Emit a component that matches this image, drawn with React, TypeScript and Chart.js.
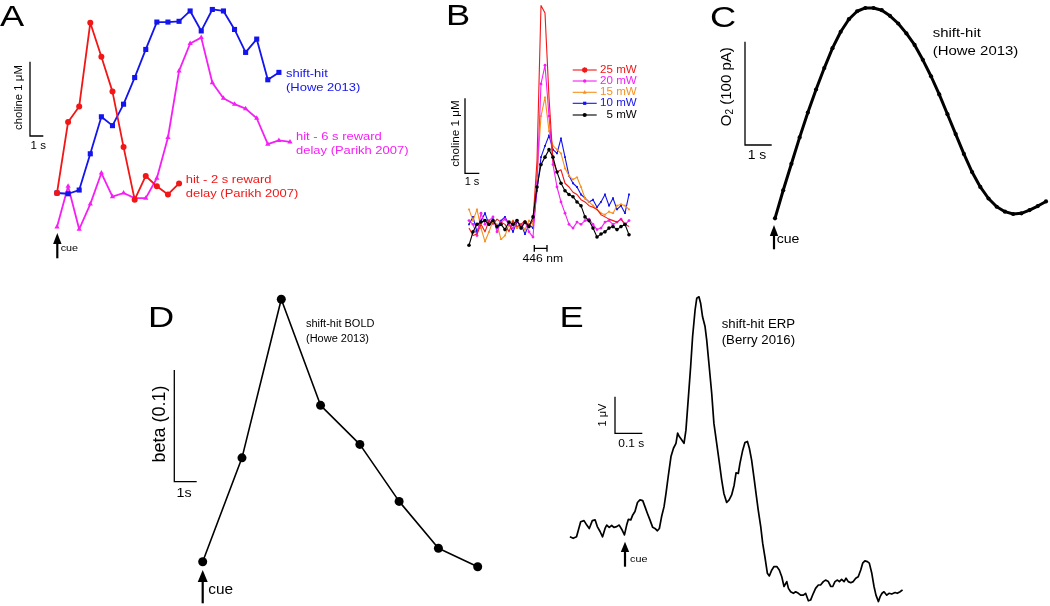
import React, { useEffect, useRef } from 'react';
import { Chart, registerables } from 'chart.js';
Chart.register(...registerables);

const W = 1050;
const H = 606;
const FONT = '"Liberation Sans", Arial, Helvetica, sans-serif';

// ---------- Panel A: choline (µM) per time bin ----------
const aHit2sReward = [0.50, 1.46, 1.67, 2.80, 2.34, 1.87, 1.12, 0.41, 0.73, 0.59, 0.48, 0.63];
const aShiftHit = [0.50, 0.49, 0.54, 1.03, 1.53, 1.41, 1.70, 2.06, 2.44, 2.81, 2.81, 2.82, 2.96, 2.69, 2.98, 2.96, 2.71, 2.40, 2.58, 2.03, 2.13];
const aHit6sReward = [0.04, 0.59, 0.01, 0.35, 0.77, 0.45, 0.50, 0.43, 0.43, 0.70, 1.25, 2.15, 2.52, 2.60, 1.99, 1.78, 1.70, 1.64, 1.51, 1.16, 1.21, 1.19];

// ---------- Panel B: choline (µM) by laser power ----------
const bLegendLabels = ['25 mW', '20 mW', '15 mW', '10 mW', '5 mW'];
const b25mW = [0.0, -0.1, -0.08, 0.05, -0.05, 0.1, 0.05, 0.12, 0.08, 0.05, -0.05, 0.1, 0.02, 0.05, 0.1, 0.03, 0.1, 0.9, 2.98, 2.88, 1.75, 0.9, 0.75, 0.78, 0.6, 0.55, 0.48, 0.45, 0.38, 0.35, 0.3, 0.28, 0.25, 0.18, 0.15, 0.12, 0.1, 0.08, 0.12, 0.05, 0.02];
const b20mW = [0.1, 0.05, -0.1, 0.2, 0.05, 0.1, 0.15, -0.05, 0.08, 0.12, 0.05, 0.0, 0.1, 0.02, 0.08, -0.05, -0.12, 0.6, 1.93, 2.18, 1.5, 0.85, 0.55, 0.35, 0.2, 0.05, 0.0, 0.08, 0.05, 0.1, 0.12, 0.05, -0.02, 0.0, 0.08, 0.1, 0.05, 0.08, 0.12, 0.05, 0.1];
const b15mW = [0.25, 0.1, 0.25, 0.0, -0.18, -0.05, 0.1, 0.05, -0.15, -0.1, 0.05, 0.1, 0.0, 0.05, -0.02, 0.1, 0.05, 0.7, 1.5, 1.75, 1.3, 1.1, 1.05, 1.0, 0.8, 0.7, 0.65, 0.68, 0.55, 0.4, 0.35, 0.3, 0.25, 0.2, 0.18, 0.22, 0.2, 0.3, 0.32, 0.3, 0.25];
const b10mW = [0.05, 0.15, -0.05, 0.1, 0.2, 0.05, 0.12, 0.0, 0.1, 0.15, 0.05, -0.05, 0.08, 0.05, -0.08, 0.05, 0.0, 0.5, 0.95, 1.1, 1.24, 1.05, 1.0, 1.2, 0.95, 0.7, 0.6, 0.55, 0.45, 0.4, 0.35, 0.38, 0.28, 0.35, 0.45, 0.3, 0.4, 0.25, 0.3, 0.2, 0.45];
const b5mW = [-0.23, -0.05, 0.05, 0.08, 0.1, 0.05, 0.1, 0.02, 0.05, -0.02, 0.08, 0.05, 0.1, 0.0, 0.08, 0.02, 0.15, 0.55, 0.85, 0.95, 1.05, 0.95, 0.75, 0.6, 0.5, 0.45, 0.42, 0.35, 0.3, 0.15, 0.1, 0.0, -0.12, -0.08, -0.05, 0.0, 0.02, -0.02, 0.02, 0.05, -0.09];

// ---------- Panel C: O2 current (pA) ----------
const cShiftHitO2 = [0, 27.5, 53.4, 79.3, 103.6, 126.2, 147.2, 166.7, 182.8, 195.1, 202.9, 206.1, 206.1, 203.9, 198.4, 190.9, 181.2, 169.9, 155.3, 139.2, 121.4, 102, 82.5, 63.1, 45.3, 30.7, 19.4, 11.3, 6.5, 4.2, 4.9, 8.1, 12, 16.5];

// ---------- Panel D: BOLD beta ----------
const dShiftHitBold = [0, 0.093, 0.235, 0.140, 0.105, 0.054, 0.012, -0.0045];

// ---------- Panel E: ERP (µV) vs time (ms) ----------
const eTimeMs = [-199, -187, -175, -160, -148, -138, -129, -118, -108, -100, -90, -81, -72, -66, -57, -48, -40, -30, -21, -12, -2, 6, 12, 21, 28, 36, 45, 54, 64, 72, 81, 90, 100, 108, 117, 124, 132, 141, 148, 156, 166, 175, 184, 190, 196, 205, 213, 220, 229, 237, 244, 253, 259, 267, 273, 280, 289, 295, 303, 313, 321, 331, 341, 349, 357, 367, 376, 385, 394, 401, 409, 415, 425, 433, 442, 449, 457, 466, 473, 481, 490, 497, 505, 514, 521, 530, 538, 548, 557, 566, 574, 584, 590, 598, 608, 616, 626, 634, 644, 652, 662, 670, 680, 688, 698, 706, 716, 724, 734, 743, 750, 758, 767, 774, 782, 791, 798, 806, 815, 824, 833, 842, 851, 858, 866, 875, 882, 891, 899, 906, 915, 921, 928, 935, 945, 953, 963, 975, 983, 993, 1002];
const eShiftHitErp = [-0.18, -0.22, -0.18, 0.22, 0.25, 0.13, 0.04, 0.25, 0.27, 0.09, -0.04, -0.18, 0.04, 0.13, 0.07, 0.12, 0.07, 0.09, 0.13, 0.02, -0.13, 0.13, 0.28, 0.27, 0.40, 0.49, 0.73, 0.80, 0.78, 0.62, 0.44, 0.27, 0.07, 0.04, -0.02, 0.04, 0.35, 0.62, 0.97, 1.42, 1.95, 2.17, 2.30, 2.57, 2.48, 2.39, 2.30, 2.65, 3.54, 4.34, 5.13, 5.84, 6.15, 6.19, 6.02, 5.66, 5.40, 5.04, 4.42, 3.63, 2.83, 2.30, 1.77, 1.33, 0.97, 0.73, 0.80, 0.93, 1.19, 1.52, 1.50, 1.77, 2.12, 2.32, 2.35, 2.17, 1.86, 1.37, 0.97, 0.53, 0.09, -0.35, -0.71, -1.15, -1.22, -1.06, -0.97, -0.97, -1.06, -1.24, -1.50, -1.37, -1.55, -1.64, -1.68, -1.64, -1.68, -1.73, -1.73, -1.68, -1.88, -1.86, -1.68, -1.55, -1.46, -1.46, -1.37, -1.33, -1.37, -1.50, -1.50, -1.37, -1.33, -1.37, -1.31, -1.37, -1.28, -1.37, -1.40, -1.37, -1.28, -1.24, -1.06, -0.88, -0.82, -0.84, -0.88, -1.15, -1.50, -1.73, -1.90, -1.77, -1.68, -1.64, -1.73, -1.68, -1.70, -1.66, -1.68, -1.64, -1.59];

const RED = '#f21616';
const BLUE = '#1414ee';
const MAGENTA = '#f51ff5';
const ORANGE = '#f7901e';
const BLACK = '#000000';

const xy = (vals: number[]) => vals.map((v, i) => ({ x: i, y: v }));

type Ctx = CanvasRenderingContext2D;
type TOpts = { size?: number; color?: string; align?: CanvasTextAlign; sx?: number; baseline?: CanvasTextBaseline };

function txt(ctx: Ctx, s: string, x: number, y: number, o: TOpts = {}) {
  ctx.save();
  ctx.translate(x, y);
  ctx.scale(o.sx ?? 1.1, 1);
  ctx.font = `${o.size ?? 12}px ${FONT}`;
  ctx.fillStyle = o.color ?? '#000';
  ctx.textAlign = o.align ?? 'left';
  ctx.textBaseline = o.baseline ?? 'middle';
  ctx.fillText(s, 0, 0);
  ctx.restore();
}

function rtxt(ctx: Ctx, s: string, x: number, y: number, size: number) {
  ctx.save();
  ctx.translate(x, y);
  ctx.rotate(-Math.PI / 2);
  ctx.font = `${size}px ${FONT}`;
  ctx.fillStyle = '#000';
  ctx.textAlign = 'center';
  ctx.textBaseline = 'middle';
  ctx.fillText(s, 0, 0);
  ctx.restore();
}

function letter(ctx: Ctx, s: string, x: number, y: number) {
  txt(ctx, s, x, y, { size: 29, sx: 1.25, baseline: 'alphabetic' });
}

function scaleBar(ctx: Ctx, x: number, yTop: number, yBottom: number, xRight: number) {
  ctx.save();
  ctx.strokeStyle = '#000';
  ctx.lineWidth = 1.3;
  ctx.beginPath();
  ctx.moveTo(x, yTop);
  ctx.lineTo(x, yBottom);
  ctx.lineTo(xRight, yBottom);
  ctx.stroke();
  ctx.restore();
}

function cueArrow(ctx: Ctx, x: number, yTip: number, yHead: number, yEnd: number, halfW: number) {
  ctx.save();
  ctx.fillStyle = '#000';
  ctx.strokeStyle = '#000';
  ctx.beginPath();
  ctx.moveTo(x, yTip);
  ctx.lineTo(x + halfW, yHead);
  ctx.lineTo(x - halfW, yHead);
  ctx.closePath();
  ctx.fill();
  ctx.lineWidth = 2.2;
  ctx.beginPath();
  ctx.moveTo(x, yHead - 1);
  ctx.lineTo(x, yEnd);
  ctx.stroke();
  ctx.restore();
}

function marker(ctx: Ctx, style: string, x: number, y: number, r: number, color: string) {
  ctx.save();
  ctx.fillStyle = color;
  ctx.strokeStyle = color;
  ctx.lineWidth = 1;
  ctx.beginPath();
  if (style === 'circle') {
    ctx.arc(x, y, r, 0, Math.PI * 2);
    ctx.fill();
  } else if (style === 'rect') {
    ctx.fillRect(x - r, y - r, 2 * r, 2 * r);
  } else if (style === 'triangle') {
    ctx.moveTo(x, y - r * 1.2);
    ctx.lineTo(x + r, y + r * 0.8);
    ctx.lineTo(x - r, y + r * 0.8);
    ctx.closePath();
    ctx.fill();
  } else {
    for (let k = 0; k < 4; k++) {
      const a = (k * Math.PI) / 4;
      ctx.moveTo(x - r * Math.cos(a), y - r * Math.sin(a));
      ctx.lineTo(x + r * Math.cos(a), y + r * Math.sin(a));
    }
    ctx.lineWidth = 1.5;
    ctx.stroke();
  }
  ctx.restore();
}

type Box = { l: number; r: number; t: number; b: number };

function cfg(box: Box, xr: [number, number], yr: [number, number], datasets: any[], draw: (ctx: Ctx) => void): any {
  return {
    type: 'line',
    data: { datasets },
    options: {
      responsive: false,
      maintainAspectRatio: false,
      animation: false,
      devicePixelRatio: 1,
      events: [],
      layout: { padding: { left: box.l, right: W - box.r, top: box.t, bottom: H - box.b } },
      scales: {
        x: { type: 'linear', display: false, min: xr[0], max: xr[1] },
        y: { type: 'linear', display: false, min: yr[0], max: yr[1] },
      },
      plugins: { legend: { display: false }, tooltip: { enabled: false }, title: { display: false } },
    },
    plugins: [
      {
        id: 'annotations',
        afterDraw: (chart: any) => {
          const ctx = chart.ctx as Ctx;
          ctx.save();
          draw(ctx);
          ctx.restore();
        },
      },
    ],
  };
}

function ds(label: string, data: any[], color: string, extra: any = {}) {
  return {
    label,
    data,
    borderColor: color,
    backgroundColor: color,
    pointBackgroundColor: color,
    pointBorderColor: color,
    pointBorderWidth: 0,
    borderWidth: 1.8,
    tension: 0,
    fill: false,
    clip: false,
    borderJoinStyle: 'round',
    ...extra,
  };
}

const makeA = () =>
  cfg(
    { l: 57, r: 290, t: 8, b: 230 },
    [0, 21],
    [0, 3],
    [
      ds('hit - 2 s reward delay (Parikh 2007)', xy(aHit2sReward), RED, { pointStyle: 'circle', pointRadius: 3 }),
      ds('shift-hit (Howe 2013)', xy(aShiftHit), BLUE, { pointStyle: 'rect', pointRadius: 3.6 }),
      ds('hit - 6 s reward delay (Parikh 2007)', xy(aHit6sReward), MAGENTA, { pointStyle: 'triangle', pointRadius: 3 }),
    ],
    (ctx) => {
      letter(ctx, 'A', 0, 26);
      scaleBar(ctx, 30, 61.7, 136, 43.3);
      rtxt(ctx, 'choline 1 \u03bcM', 19.3, 97.5, 11.4);
      txt(ctx, '1 s', 38.3, 146.3, { size: 10.5, align: 'center' });
      txt(ctx, 'shift-hit', 286, 73.5, { size: 11.8, color: BLUE });
      txt(ctx, '(Howe 2013)', 286, 87.5, { size: 11.8, color: BLUE });
      txt(ctx, 'hit - 6 s reward', 296, 137, { size: 11.8, color: MAGENTA });
      txt(ctx, 'delay (Parikh 2007)', 296, 151, { size: 11.8, color: MAGENTA });
      txt(ctx, 'hit - 2 s reward', 185.7, 180, { size: 11.8, color: RED });
      txt(ctx, 'delay (Parikh 2007)', 185.7, 193.5, { size: 11.8, color: RED });
      cueArrow(ctx, 57.3, 233, 244, 258.3, 4.2);
      txt(ctx, 'cue', 60.7, 248, { size: 9.8 });
    }
  );

const bSeries = [
  { label: bLegendLabels[4], vals: b5mW, color: BLACK, style: 'circle', r: 1.8 },
  { label: bLegendLabels[0], vals: b25mW, color: RED, style: 'star', r: 2.5 },
  { label: bLegendLabels[1], vals: b20mW, color: MAGENTA, style: 'circle', r: 1.4 },
  { label: bLegendLabels[2], vals: b15mW, color: ORANGE, style: 'triangle', r: 1.6 },
  { label: bLegendLabels[3], vals: b10mW, color: BLUE, style: 'rect', r: 1.3 },
];

const makeB = () =>
  cfg(
    { l: 469, r: 629, t: 3, b: 250.5 },
    [0, 40],
    [-0.3, 3.0],
    bSeries.map((s) => ds(s.label, xy(s.vals), s.color, { pointStyle: s.style, pointRadius: s.r, borderWidth: 1.1 })),
    (ctx) => {
      letter(ctx, 'B', 446, 25);
      scaleBar(ctx, 465, 98.3, 173.3, 479.3);
      rtxt(ctx, 'choline 1 \u03bcM', 455.5, 133.5, 11.7);
      txt(ctx, '1 s', 472, 182.5, { size: 10, align: 'center' });
      ctx.save();
      ctx.strokeStyle = '#000';
      ctx.lineWidth = 1.3;
      ctx.beginPath();
      ctx.moveTo(534.3, 248.3);
      ctx.lineTo(547, 248.3);
      ctx.moveTo(534.3, 245);
      ctx.lineTo(534.3, 251.7);
      ctx.moveTo(547, 245);
      ctx.lineTo(547, 251.7);
      ctx.stroke();
      ctx.restore();
      txt(ctx, '446 nm', 542.8, 258.7, { size: 11, align: 'center' });
      const rows = [70, 81, 92.3, 103.3, 115];
      const order = [1, 2, 3, 4, 0];
      order.forEach((si, k) => {
        const s = bSeries[si];
        const y = rows[k];
        ctx.save();
        ctx.strokeStyle = s.color;
        ctx.lineWidth = 1.1;
        ctx.beginPath();
        ctx.moveTo(572.7, y);
        ctx.lineTo(596.7, y);
        ctx.stroke();
        ctx.restore();
        marker(ctx, s.style, 584.7, y, s.r + 0.3, s.color);
        txt(ctx, s.label, 636.7, y, { size: 10.5, color: s.color, align: 'right' });
      });
    }
  );

const makeC = () =>
  cfg(
    { l: 775, r: 1050, t: 2, b: 218.3 },
    [0, 33],
    [0, 210],
    [ds('shift-hit (Howe 2013)', xy(cShiftHitO2), BLACK, { pointStyle: 'circle', pointRadius: 2.1, borderWidth: 3 })],
    (ctx) => {
      letter(ctx, 'C', 710, 26.5);
      scaleBar(ctx, 745, 41.7, 145, 771.7);
      // rotated "O2 (100 pA)" with subscript
      ctx.save();
      ctx.translate(726.7, 86.7);
      ctx.rotate(-Math.PI / 2);
      ctx.fillStyle = '#000';
      ctx.textBaseline = 'middle';
      ctx.textAlign = 'left';
      const big = `15px ${FONT}`;
      const small = `10px ${FONT}`;
      ctx.font = big;
      const wO = ctx.measureText('O').width;
      const wRest = ctx.measureText(' (100 pA)').width;
      ctx.font = small;
      const w2 = ctx.measureText('2').width;
      let x0 = -(wO + w2 + wRest) / 2;
      ctx.font = big;
      ctx.fillText('O', x0, 0);
      x0 += wO;
      ctx.font = small;
      ctx.fillText('2', x0, 4);
      x0 += w2;
      ctx.font = big;
      ctx.fillText(' (100 pA)', x0, 0);
      ctx.restore();
      txt(ctx, '1 s', 757, 155, { size: 12.7, align: 'center' });
      txt(ctx, 'shift-hit', 932.7, 33.5, { size: 13.6 });
      txt(ctx, '(Howe 2013)', 932.7, 51, { size: 13.6 });
      cueArrow(ctx, 774, 225, 236, 249.3, 4.2);
      txt(ctx, 'cue', 776.7, 239, { size: 12.8 });
    }
  );

const makeD = () =>
  cfg(
    { l: 202.7, r: 477.7, t: 282.45, b: 572.87 },
    [0, 7],
    [-0.01, 0.25],
    [ds('shift-hit BOLD (Howe 2013)', xy(dShiftHitBold), BLACK, { pointStyle: 'circle', pointRadius: 4.5, borderWidth: 1.6 })],
    (ctx) => {
      letter(ctx, 'D', 148, 327);
      scaleBar(ctx, 174.3, 370, 481.7, 196.7);
      rtxt(ctx, 'beta (0.1)', 160, 424, 18);
      txt(ctx, '1s', 184, 493.5, { size: 13, align: 'center' });
      txt(ctx, 'shift-hit BOLD', 306, 324.5, { size: 10 });
      txt(ctx, '(Howe 2013)', 306, 339.5, { size: 10 });
      cueArrow(ctx, 202.7, 570, 582, 603.3, 5);
      txt(ctx, 'cue', 208.3, 590, { size: 14 });
    }
  );

const makeE = () =>
  cfg(
    { l: 564.06, r: 907.54, t: 285.14, b: 605.34 },
    [-220, 1020],
    [-2.0, 6.5],
    [
      ds(
        'shift-hit ERP (Berry 2016)',
        eTimeMs.map((t, i) => ({ x: t, y: eShiftHitErp[i] })),
        BLACK,
        { pointRadius: 0, borderWidth: 1.7 }
      ),
    ],
    (ctx) => {
      letter(ctx, 'E', 559.5, 327);
      scaleBar(ctx, 615, 396.7, 433.3, 642.3);
      rtxt(ctx, '1 \u03bcV', 602.5, 415, 11);
      txt(ctx, '0.1 s', 631.3, 443.7, { size: 10.9, align: 'center' });
      txt(ctx, 'shift-hit ERP', 721.7, 325, { size: 12 });
      txt(ctx, '(Berry 2016)', 721.7, 341, { size: 12 });
      cueArrow(ctx, 625, 541.7, 552, 566.7, 4.2);
      txt(ctx, 'cue', 630, 559, { size: 9.8 });
    }
  );

function Panel({ make }: { make: () => any }) {
  const ref = useRef<HTMLCanvasElement | null>(null);
  useEffect(() => {
    const chart = new Chart(ref.current as HTMLCanvasElement, make());
    return () => chart.destroy();
  }, [make]);
  return (
    <canvas
      ref={ref}
      width={W}
      height={H}
      style={{ position: 'absolute', left: 0, top: 0, width: W, height: H }}
    />
  );
}

export default function App() {
  return (
    <div style={{ position: 'absolute', left: 0, top: 0, width: W, height: H, background: '#ffffff', overflow: 'hidden' }}>
      <Panel make={makeA} />
      <Panel make={makeB} />
      <Panel make={makeC} />
      <Panel make={makeD} />
      <Panel make={makeE} />
    </div>
  );
}
